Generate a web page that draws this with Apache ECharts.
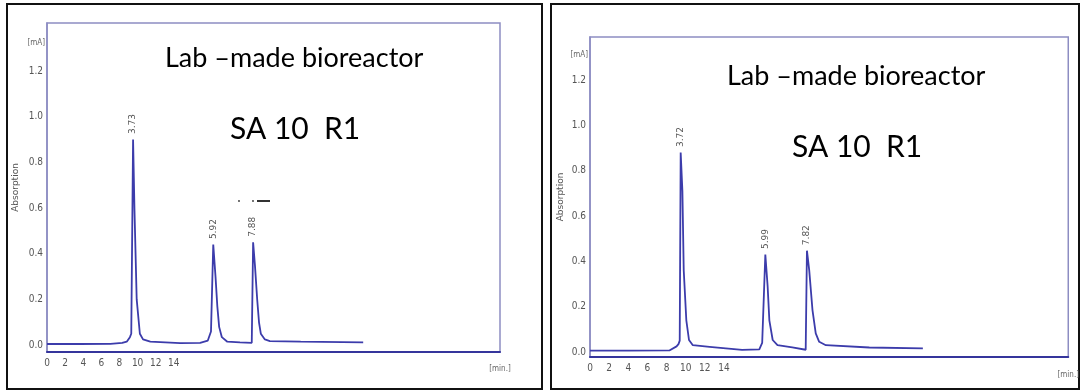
<!DOCTYPE html>
<html><head><meta charset="utf-8">
<script src="https://cdn.jsdelivr.net/npm/echarts@6/dist/echarts.min.js"></script>
<style>html,body{margin:0;padding:0;background:#fff}#c{width:1082px;height:392px}</style>
</head><body><div id="c"></div>
<script>
// ---- data ----
const titleMain = 'Lab \u2013made bioreactor';
const titleSub = 'SA 10  R1';
const yTicks = [0, 0.2, 0.4, 0.6, 0.8, 1.0, 1.2];
const xTicks = [0, 2, 4, 6, 8, 10, 12, 14];
const yName = '[mA]';
const yTitle = 'Absorption';
const xName = '[min.]';

const leftX = [0, 3.6, 7.0, 8.3, 8.8, 9.15, 9.3, 9.5, 9.65, 9.9, 10.25, 10.6, 11.4, 14.7, 16.9, 17.75, 18.1, 18.35, 18.6, 18.8, 19.0, 19.3, 19.9, 21.3, 22.6, 22.75, 22.95, 23.2, 23.4, 23.6, 24.05, 24.6, 28.0, 34.9];
const leftY = [0.005, 0.005, 0.006, 0.01, 0.015, 0.035, 0.05, 0.90, 0.6, 0.2, 0.05, 0.025, 0.015, 0.009, 0.01, 0.02, 0.06, 0.44, 0.3, 0.17, 0.08, 0.035, 0.015, 0.012, 0.01, 0.45, 0.35, 0.2, 0.1, 0.05, 0.025, 0.018, 0.015, 0.012];
const leftPeakLabels = ['3.73', '5.92', '7.88'];

const rightX = [0, 4, 8.3, 9.05, 9.25, 9.38, 9.48, 9.66, 9.8, 10.07, 10.35, 10.75, 12.5, 15.9, 17.7, 18.0, 18.33, 18.57, 18.75, 19.1, 19.6, 21.15, 22.55, 22.68, 22.92, 23.26, 23.6, 23.96, 24.66, 29.2, 34.8];
const rightY = [0.006, 0.006, 0.007, 0.025, 0.035, 0.05, 0.88, 0.71, 0.36, 0.14, 0.053, 0.03, 0.023, 0.009, 0.012, 0.04, 0.43, 0.29, 0.14, 0.053, 0.03, 0.02, 0.01, 0.447, 0.36, 0.185, 0.082, 0.045, 0.03, 0.02, 0.016];
const rightPeakLabels = ['3.72', '5.99', '7.82'];

// ---- build ----
function peakMarks(xs, ys, labels) {
  const out = [];
  for (let i = 1; i < ys.length - 1; i++) {
    if (ys[i] > 0.3 && ys[i] > ys[i - 1] && ys[i] > ys[i + 1]) {
      out.push({ coord: [xs[i], ys[i]], value: labels[out.length] });
    }
  }
  return out;
}
function pairs(xs, ys) { return xs.map((x, i) => [x, ys[i]]); }

const lineColor = '#3c3cab';
const boxColor = '#8d8dc2';
const tickFont = '"Liberation Sans Narrow", "DejaVu Sans Condensed", sans-serif';

function xAxisFor(gi, max, namePad) {
  return {
    type: 'value', gridIndex: gi, min: 0, max: max,
    axisLine: { show: true, onZero: false, lineStyle: { color: '#35359c', width: 2 } },
    axisTick: { show: false },
    splitLine: { show: false },
    axisLabel: { customValues: xTicks, fontSize: 10, color: '#555', margin: 6, fontFamily: tickFont },
    name: xName, nameLocation: 'end', nameGap: 0,
    nameTextStyle: { fontSize: 8, color: '#666', align: 'center', verticalAlign: 'top', padding: [namePad, 0, 0, 0], fontFamily: tickFont }
  };
}
function yAxisFor(gi, min, max, gap) {
  return {
    type: 'value', gridIndex: gi, min: min, max: max,
    axisLine: { show: true, lineStyle: { color: boxColor, width: 1.5 } },
    axisTick: { show: false },
    splitLine: { show: false },
    axisLabel: { customValues: yTicks, formatter: v => v.toFixed(1), fontSize: 10, color: '#555', margin: 4, fontFamily: tickFont },
    name: yName, nameLocation: 'end', nameGap: gap,
    nameTextStyle: { fontSize: 8, color: '#666', align: 'right', verticalAlign: 'middle', padding: [0, 2, 0, 0], fontFamily: tickFont }
  };
}
function yTitleAxis(gi, min, max, gap) {
  return {
    type: 'value', gridIndex: gi, min: min, max: max, position: 'left',
    axisLine: { show: false }, axisTick: { show: false }, axisLabel: { show: false }, splitLine: { show: false },
    name: yTitle, nameLocation: 'middle', nameGap: gap,
    nameTextStyle: { fontSize: 9, color: '#555', fontFamily: '"DejaVu Sans", sans-serif' }
  };
}
const titleStyle = (s) => ({ fontFamily: 'Lato, "Open Sans", sans-serif', fontSize: s, fontWeight: 'normal', color: '#000' });

function lineSeries(idx, xs, ys, labels) {
  return {
    type: 'line', xAxisIndex: idx, yAxisIndex: idx, data: pairs(xs, ys),
    showSymbol: false, symbol: 'none', lineStyle: { color: lineColor, width: 1.8 }, silent: true,
    markPoint: {
      symbol: 'circle', symbolSize: 1, itemStyle: { color: 'rgba(0,0,0,0)' }, silent: true,
      label: {
        show: true, formatter: p => p.value, position: 'top', rotate: 90,
        align: 'left', verticalAlign: 'middle', distance: 5,
        fontSize: 9, color: '#555', fontFamily: '"DejaVu Sans", sans-serif'
      },
      data: peakMarks(xs, ys, labels)
    }
  };
}

const chart = echarts.init(document.getElementById('c'), null, { renderer: 'canvas' });
chart.setOption({
  backgroundColor: '#fff',
  animation: false,
  title: [
    { text: titleMain, left: 165, top: 45, padding: 0, textStyle: titleStyle(27) },
    { text: titleSub, left: 230, top: 114, padding: 0, textStyle: titleStyle(30) },
    { text: titleMain, left: 727, top: 63, padding: 0, textStyle: titleStyle(27) },
    { text: titleSub, left: 792, top: 132, padding: 0, textStyle: titleStyle(30) }
  ],
  grid: [
    { left: 47, top: 23, width: 453, height: 329, show: true, borderColor: boxColor, borderWidth: 1.5, backgroundColor: 'transparent' },
    { left: 590, top: 37, width: 480, height: 320, show: true, borderColor: boxColor, borderWidth: 1.5, backgroundColor: 'transparent' }
  ],
  xAxis: [xAxisFor(0, 50, 13), xAxisFor(1, 50, 14)],
  yAxis: [
    yAxisFor(0, -0.03, 1.41, -20), yAxisFor(1, -0.022, 1.39, -18),
    yTitleAxis(0, -0.03, 1.41, 27), yTitleAxis(1, -0.022, 1.39, 25)
  ],
  series: [
    lineSeries(0, leftX, leftY, leftPeakLabels),
    lineSeries(1, rightX, rightY, rightPeakLabels)
  ],
  graphic: [
    { type: 'rect', shape: { x: 7, y: 4, width: 535, height: 385 }, style: { fill: 'none', stroke: '#111', lineWidth: 2 }, silent: true },
    { type: 'rect', shape: { x: 551, y: 4, width: 528, height: 385 }, style: { fill: 'none', stroke: '#111', lineWidth: 2 }, silent: true },
    { type: 'line', shape: { x1: 257, y1: 201, x2: 270, y2: 201 }, style: { stroke: '#333', lineWidth: 2 }, silent: true },
    { type: 'circle', shape: { cx: 239, cy: 201, r: 0.9 }, style: { fill: '#333' }, silent: true },
    { type: 'circle', shape: { cx: 253, cy: 201, r: 0.9 }, style: { fill: '#333' }, silent: true }
  ]
});
</script></body></html>
